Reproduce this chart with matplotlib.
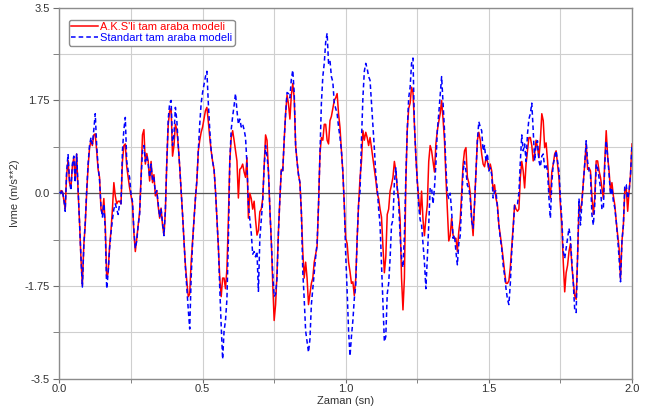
import numpy as np
import matplotlib
matplotlib.use("Agg")
import matplotlib.pyplot as plt
from matplotlib.ticker import FixedLocator, FixedFormatter

plt.rcParams['font.family'] = ['Liberation Sans', 'DejaVu Sans']

dt = 0.005  # sample step (s)

red = [
    # 0.000 - 0.210
    -0.02, 0.05, 0.04, -0.12, -0.30, 0.35, 0.62, 0.20, 0.10, 0.50,
    0.67, 0.25, 0.74, 0.04, -0.53, -1.23, -1.74, -0.98, -0.60, 0.00,
    0.50, 0.85, 1.00, 0.90, 1.10, 1.12, 0.80, 0.45, 0.30, -0.30,
    -0.40, -0.10, -0.60, -1.60, -1.50, -1.00, -0.70, -0.30, 0.20, -0.05,
    -0.20, -0.15, -0.15,
    # 0.215 - 0.450
    -0.20, 0.60, 0.90, 0.93, 0.50, 0.30, 0.10, -0.05, -0.20, -0.75,
    -1.10, -0.85, -0.60, -0.35, 0.30, 1.10, 1.20, 0.55, 0.75, 0.60,
    0.23, 0.60, 0.20, 0.35, -0.05, 0.05, -0.25, -0.47, -0.28, -0.60,
    -0.79, -0.34, 0.60, 1.30, 1.55, 1.60, 0.70, 0.90, 1.30, 1.20,
    0.90, 0.50, 0.05, -0.40, -0.90, -1.36, -1.67, -1.95,
    # 0.455 - 0.680
    -1.90, -1.30, -0.90, -0.50, -0.09, 0.23, 0.80, 1.00, 1.15, 1.25,
    1.40, 1.56, 1.62, 1.35, 1.05, 0.80, 0.60, 0.45, 0.05, -0.47,
    -1.00, -1.60, -1.95, -1.60, -1.60, -1.80, -1.42, -0.50, 0.60, 1.05,
    1.18, 1.00, 0.80, 0.61, -0.09, 0.45, 0.48, 0.55, 0.40, 0.30,
    0.67, -0.47, 0.00, -0.10, -0.30, -0.15,
    # 0.685 - 0.900
    -0.50, -0.79, -0.70, -0.35, -0.30, -0.10, 0.50, 1.10, 1.00, 0.42,
    -0.30, -0.90, -1.70, -2.40, -2.10, -1.50, -0.72, -0.10, 0.45, 0.42,
    1.00, 1.50, 1.85, 1.69, 1.40, 1.85, 2.07, 1.80, 0.90, 0.60,
    0.35, 0.20, -0.35, -1.10, -1.60, -1.30, -1.60, -2.10, -1.90, -1.70,
    -1.60, -1.30, -1.15, -1.00,
    # 0.905 - 1.120
    -0.22, 0.74, 1.05, 1.00, 1.30, 1.30, 1.00, 0.93, 1.37, 1.45,
    1.60, 1.75, 1.80, 1.88, 1.50, 1.24, 0.80, 0.40, -0.22, -0.85,
    -0.95, -1.30, -1.48, -1.70, -1.67, -1.93, -1.61, -0.85, -0.20, 0.29,
    0.60, 1.18, 1.00, 1.15, 1.05, 0.90, 1.05, 0.86, 0.65, 0.45,
    0.25, 0.00, -0.10, -0.30,
    # 1.125 - 1.355
    -0.45, -1.00, -1.50, -1.20, -0.40, -0.30, 0.04, 0.16, 0.30, 0.60,
    0.42, 0.10, -0.10, -0.50, -1.60, -2.20, -1.60, 0.20, 1.20, 1.60,
    1.70, 2.00, 1.90, 1.30, 0.70, 0.23, -0.10, -0.40, 0.04, -0.50,
    -0.80, -0.47, -0.22, 0.60, 0.90, 0.80, 0.60, 0.40, 0.93, 1.18,
    1.35, 1.50, 1.75, 1.40, 1.00, 0.30, -0.30,
    # 1.360 - 1.585
    -0.90, -0.80, -0.47, -0.79, -0.85, -0.85, -1.10, -0.72, -0.50, 0.00,
    0.55, 0.80, 0.86, 0.30, 0.20, 0.00, -0.47, -0.80, -0.20, 0.42,
    1.00, 1.15, 1.00, 0.74, 0.55, 0.50, 0.67, 0.60, 0.45, 0.55,
    0.42, 0.04, 0.16, -0.10, -0.22, -0.60, -0.79, -1.00, -1.23, -1.48,
    -1.70, -1.70, -1.65, -1.40, -1.00, -0.60,
    # 1.590 - 1.805
    -0.22, -0.30, -0.34, -0.30, 0.30, 0.60, 0.42, 0.10, 0.55, 0.80,
    1.05, 1.05, 0.90, 0.61, 0.74, 1.00, 0.86, 0.67, 1.00, 1.50,
    1.37, 0.86, 0.95, 0.61, 0.16, -0.09, 0.40, 0.55, 0.74, 0.80,
    0.55, 0.29, -0.22, -0.60, -1.30, -1.86, -1.50, -1.36, -1.10, -0.95,
    -1.36, -1.67, -1.93, -2.00,
    # 1.810 - 2.000
    -1.20, -0.22, -0.34, -0.15, 0.20, 0.55, 0.93, 0.45, 0.48, 0.42,
    -0.05, -0.40, -0.09, 0.61, 0.61, 0.42, 0.30, 0.10, -0.10, 0.61,
    1.18, 0.70, 0.42, 0.04, 0.20, -0.05, -0.22, -0.53, -0.79, -1.04,
    -1.61, -0.90, -0.60, 0.04, 0.10, -0.34, 0.04, 0.36, 0.93,
]

blue = [
    # 0.000 - 0.210
    0.02, 0.00, 0.06, -0.10, -0.34, 0.40, 0.74, 0.25, 0.05, 0.55,
    0.70, 0.20, 0.74, 0.10, -0.50, -1.20, -1.77, -1.00, -0.55, 0.05,
    0.55, 0.90, 1.05, 0.93, 1.20, 1.50, 0.90, 0.50, 0.25, -0.25,
    -0.45, -0.20, -0.70, -1.80, -1.50, -1.05, -0.75, -0.50, -0.30, -0.20,
    -0.30, -0.40, -0.20,
    # 0.215 - 0.450
    -0.20, 0.80, 1.20, 1.43, 0.60, 0.42, 0.30, -0.02, -0.15, -0.70,
    -1.04, -0.90, -0.60, -0.40, 0.25, 0.80, 0.90, 0.60, 0.70, 0.55,
    0.30, 0.55, 0.25, 0.30, 0.00, 0.05, -0.20, -0.45, -0.30, -0.55,
    -0.80, -0.30, 0.60, 1.40, 1.70, 1.75, 0.90, 1.10, 1.62, 1.37,
    0.90, 0.50, 0.05, -0.40, -0.90, -1.40, -1.80, -2.20,
    # 0.455 - 0.680
    -2.56, -1.60, -0.95, -0.50, -0.10, 0.25, 0.80, 1.30, 1.70, 1.90,
    2.05, 2.20, 2.30, 1.70, 1.20, 0.80, 0.60, 0.45, 0.05, -0.47,
    -1.00, -1.80, -2.50, -3.13, -2.60, -2.40, -2.00, -0.90, 0.60, 1.20,
    1.45, 1.65, 1.88, 1.56, 1.30, 1.40, 1.25, 1.30, 1.20, 1.05,
    0.55, -0.22, -0.50, -0.75, -1.15, -1.10,
    # 0.685 - 0.900
    -1.20, -1.10, -1.85, -0.85, -0.50, -0.15, 0.50, 0.90, 0.70, 0.42,
    -0.30, -0.90, -1.50, -1.95, -1.90, -1.60, -0.72, -0.10, 0.45, 0.42,
    1.00, 1.50, 1.90, 1.88, 1.80, 2.15, 2.32, 1.90, 0.90, 0.60,
    0.35, 0.20, -0.35, -1.48, -2.00, -2.60, -2.80, -3.00, -2.75, -2.10,
    -1.80, -1.50, -1.20, -0.95,
    # 0.905 - 1.120
    -0.22, 0.74, 1.70, 2.20, 2.45, 2.85, 3.02, 2.45, 2.50, 2.20,
    2.10, 1.70, 1.60, 1.50, 1.25, 1.05, 0.80, 0.40, -0.22, -1.17,
    -1.85, -2.60, -3.07, -2.70, -2.40, -1.99, -1.74, -0.85, -0.20, 0.04,
    1.00, 1.80, 2.30, 2.45, 2.35, 2.20, 2.13, 1.70, 1.25, 0.85,
    0.35, 0.10, -0.30, -0.60,
    # 1.125 - 1.355
    -1.35, -2.10, -2.80, -2.70, -1.90, -1.70, -1.23, -0.60, -0.50, 0.20,
    0.48, 0.10, -0.20, -0.80, -1.23, -1.40, -0.80, 0.30, 1.20, 1.80,
    2.00, 2.45, 2.55, 1.30, 0.70, 0.23, -0.25, -0.50, -0.60, -0.95,
    -1.30, -1.80, -1.23, -0.60, 0.10, 0.10, -0.20, 0.10, 0.55, 1.18,
    1.50, 1.85, 2.20, 1.70, 1.20, 0.50, 0.00,
    # 1.360 - 1.585
    -0.10, 0.00, -0.34, -0.85, -0.79, -1.10, -1.35, -0.95, -0.80, -0.20,
    0.42, 0.60, 0.42, 0.15, 0.10, -0.10, -0.53, -0.66, -0.20, 0.42,
    1.00, 1.35, 1.25, 1.18, 0.80, 0.90, 0.60, 0.75, 0.42, 0.48,
    0.35, -0.09, 0.04, 0.04, -0.28, -0.60, -0.85, -1.04, -1.36, -1.55,
    -1.80, -2.00, -2.10, -1.70, -1.10, -0.70,
    # 1.590 - 1.805
    -0.22, -0.22, -0.20, 0.00, 0.60, 1.10, 0.80, 0.93, 0.60, 1.12,
    1.40, 1.50, 1.70, 1.18, 0.61, 0.93, 0.99, 0.61, 0.50, 0.70,
    0.74, 0.48, 0.55, 0.42, -0.09, -0.47, 0.20, 0.55, 0.67, 0.80,
    0.61, 0.42, -0.09, -0.50, -1.10, -1.23, -1.04, -0.85, -0.66, -0.85,
    -1.30, -1.70, -2.20, -2.25,
    # 1.810 - 2.000
    -1.20, -0.10, -0.60, -0.20, 0.20, 0.55, 0.99, 0.60, 0.42, 0.36,
    -0.40, -0.60, -0.22, 0.55, 0.48, 0.29, 0.10, -0.30, -0.30, 0.55,
    0.99, 0.70, 0.36, -0.03, 0.10, -0.15, -0.28, -0.53, -0.85, -1.23,
    -1.67, -0.90, -0.60, 0.16, 0.16, -0.10, 0.04, 0.36, 0.93,
]

assert len(red) == 401 and len(blue) == 401, (len(red), len(blue))
time = np.arange(len(red)) * dt

series_labels = ["A.K.S'li tam araba modeli", "Standart tam araba modeli"]
x_major = [0.0, 0.5, 1.0, 1.5, 2.0]
x_major_labels = ["0.0", "0.5", "1.0", "1.5", "2.0"]
x_minor = [0.25, 0.75, 1.25, 1.75]
y_major = [-3.5, -1.75, 0.0, 1.75, 3.5]
y_major_labels = ["-3.5", "-1.75", "0.0", "1.75", "3.5"]
y_minor = [-2.625, -0.875, 0.875, 2.625]

fig = plt.figure(figsize=(6.45, 4.13), dpi=100)
ax = fig.add_axes([0.0922, 0.0828, 0.8876, 0.8986])

ax.set_xlim(0, 2.0)
ax.set_ylim(-3.5, 3.5)

ax.xaxis.set_major_locator(FixedLocator(x_major))
ax.xaxis.set_major_formatter(FixedFormatter(x_major_labels))
ax.xaxis.set_minor_locator(FixedLocator(x_minor))
ax.yaxis.set_major_locator(FixedLocator(y_major))
ax.yaxis.set_major_formatter(FixedFormatter(y_major_labels))
ax.yaxis.set_minor_locator(FixedLocator(y_minor))

ax.grid(which='both', color='#cfcfcf', lw=0.8, zorder=0)
ax.set_axisbelow(True)
ax.axhline(0, color='#555555', lw=0.9, zorder=1)

ax.plot(time, red, color='#ff0000', lw=1.1, zorder=2, label=series_labels[0])
ax.plot(time, blue, color='#0000ff', lw=1.1, dashes=(3, 2), zorder=3,
        label=series_labels[1])

for s in ax.spines.values():
    s.set_color('#8c8c8c')
    s.set_linewidth(1.0)

ax.tick_params(which='both', direction='out', color='#6e6e6e',
               labelsize=8, labelcolor='#333333')
ax.tick_params(axis='x', which='both', length=3, pad=0.5)
ax.tick_params(axis='y', which='both', length=4, pad=3)

ax.set_xlabel('Zaman (sn)', fontsize=8, color='#333333', labelpad=1.5)
ax.set_ylabel('Ivme (m/s**2)', fontsize=8, color='#333333', labelpad=3)

leg = ax.legend(loc='upper left', bbox_to_anchor=(0.016, 0.968),
                borderaxespad=0, fontsize=8, labelcolor='linecolor',
                frameon=True, fancybox=True, framealpha=1,
                edgecolor='#8c8c8c', handlelength=2.4, handletextpad=0.15,
                borderpad=0.25, labelspacing=0.05)
leg.get_frame().set_linewidth(1.0)

fig.savefig('out.png', dpi=100)
